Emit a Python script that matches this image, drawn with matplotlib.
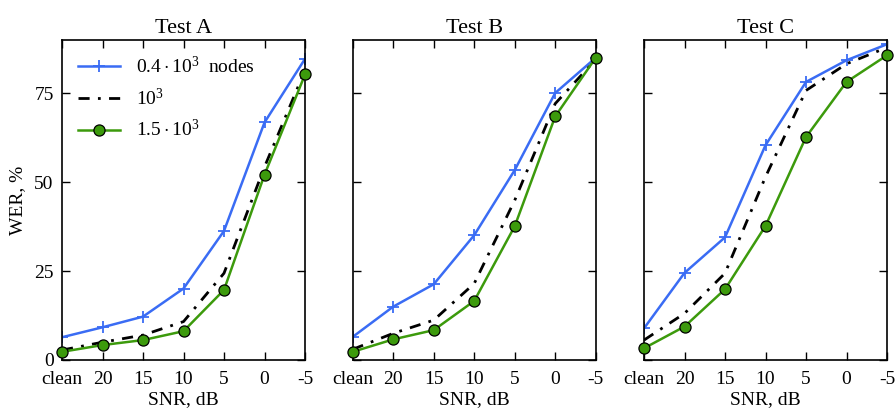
import matplotlib
matplotlib.use("Agg")
import matplotlib.pyplot as plt

plt.rcParams['font.family'] = ['Liberation Serif', 'DejaVu Serif']
plt.rcParams['mathtext.fontset'] = 'custom'
plt.rcParams['mathtext.rm'] = 'Liberation Serif'
plt.rcParams['mathtext.it'] = 'Liberation Serif:italic'

categories = ['clean', '20', '15', '10', '5', '0', '-5']
titles = ['Test A', 'Test B', 'Test C']
labels = [r'$0.4\cdot10^3$  nodes', r'$10^3$', r'$1.5\cdot10^3$']

small_A = [6.4, 9.2, 12.2, 20.1, 36.3, 66.8, 84.7]
mid_A = [2.8, 5.0, 7.0, 10.8, 24.4, 54.3, 81.5]
large_A = [2.3, 4.2, 5.6, 8.1, 19.7, 52.1, 80.3]

small_B = [6.5, 15.0, 21.3, 35.1, 53.4, 75.1, 85.0]
mid_B = [3.0, 7.5, 11.2, 21.5, 44.9, 72.1, 84.5]
large_B = [2.3, 5.8, 8.4, 16.6, 37.6, 68.5, 85.0]

small_C = [8.9, 24.5, 34.5, 60.4, 78.2, 84.3, 88.8]
mid_C = [5.6, 13.1, 24.4, 51.5, 75.8, 83.3, 87.9]
large_C = [3.3, 9.4, 19.9, 37.7, 62.7, 78.2, 85.7]

series = [(small_A, mid_A, large_A), (small_B, mid_B, large_B), (small_C, mid_C, large_C)]

blue = '#3a6cf4'
green = '#3c9a0c'

fig = plt.figure(figsize=(8.96, 4.12), dpi=100)
lefts = [62 / 896, 352.7 / 896, 644 / 896]
w = 243 / 896
b = 1 - 360 / 412
h = 320 / 412
x = list(range(len(categories)))

for i, (s, m, l) in enumerate(series):
    ax = fig.add_axes([lefts[i], b, w, h])
    ax.plot(x, s, color=blue, lw=1.8, marker='+', ms=9, mew=1.3, label=labels[0])
    ax.plot(x, m, color='black', lw=2.0, linestyle=(0, (4, 3, 1, 3)), label=labels[1])
    ax.plot(x, l, color=green, lw=1.8, marker='o', ms=8, mfc=green, mec='black', mew=0.9,
            label=labels[2], clip_on=False, zorder=3)
    ax.set_xlim(0, 6)
    ax.set_ylim(0, 90)
    ax.set_xticks(x)
    ax.set_xticklabels(categories, fontsize=14)
    ax.set_yticks([0, 25, 50, 75])
    ax.tick_params(direction='in', top=True, right=True, length=6, width=1, labelsize=14)
    ax.tick_params(axis='x', pad=8)
    ax.tick_params(axis='y', pad=6)
    if i == 0:
        ax.set_ylabel('WER, %', fontsize=14, labelpad=6)
        ax.legend(loc='upper left', frameon=False, fontsize=14, handlelength=2.2,
                  borderaxespad=0.4, labelspacing=0.55)
    else:
        ax.set_yticklabels([])
    ax.set_xlabel('SNR, dB', fontsize=14, labelpad=2)
    ax.set_title(titles[i], fontsize=16, pad=5)
    for sp in ax.spines.values():
        sp.set_linewidth(1.2)

fig.savefig('out.png', dpi=100)
